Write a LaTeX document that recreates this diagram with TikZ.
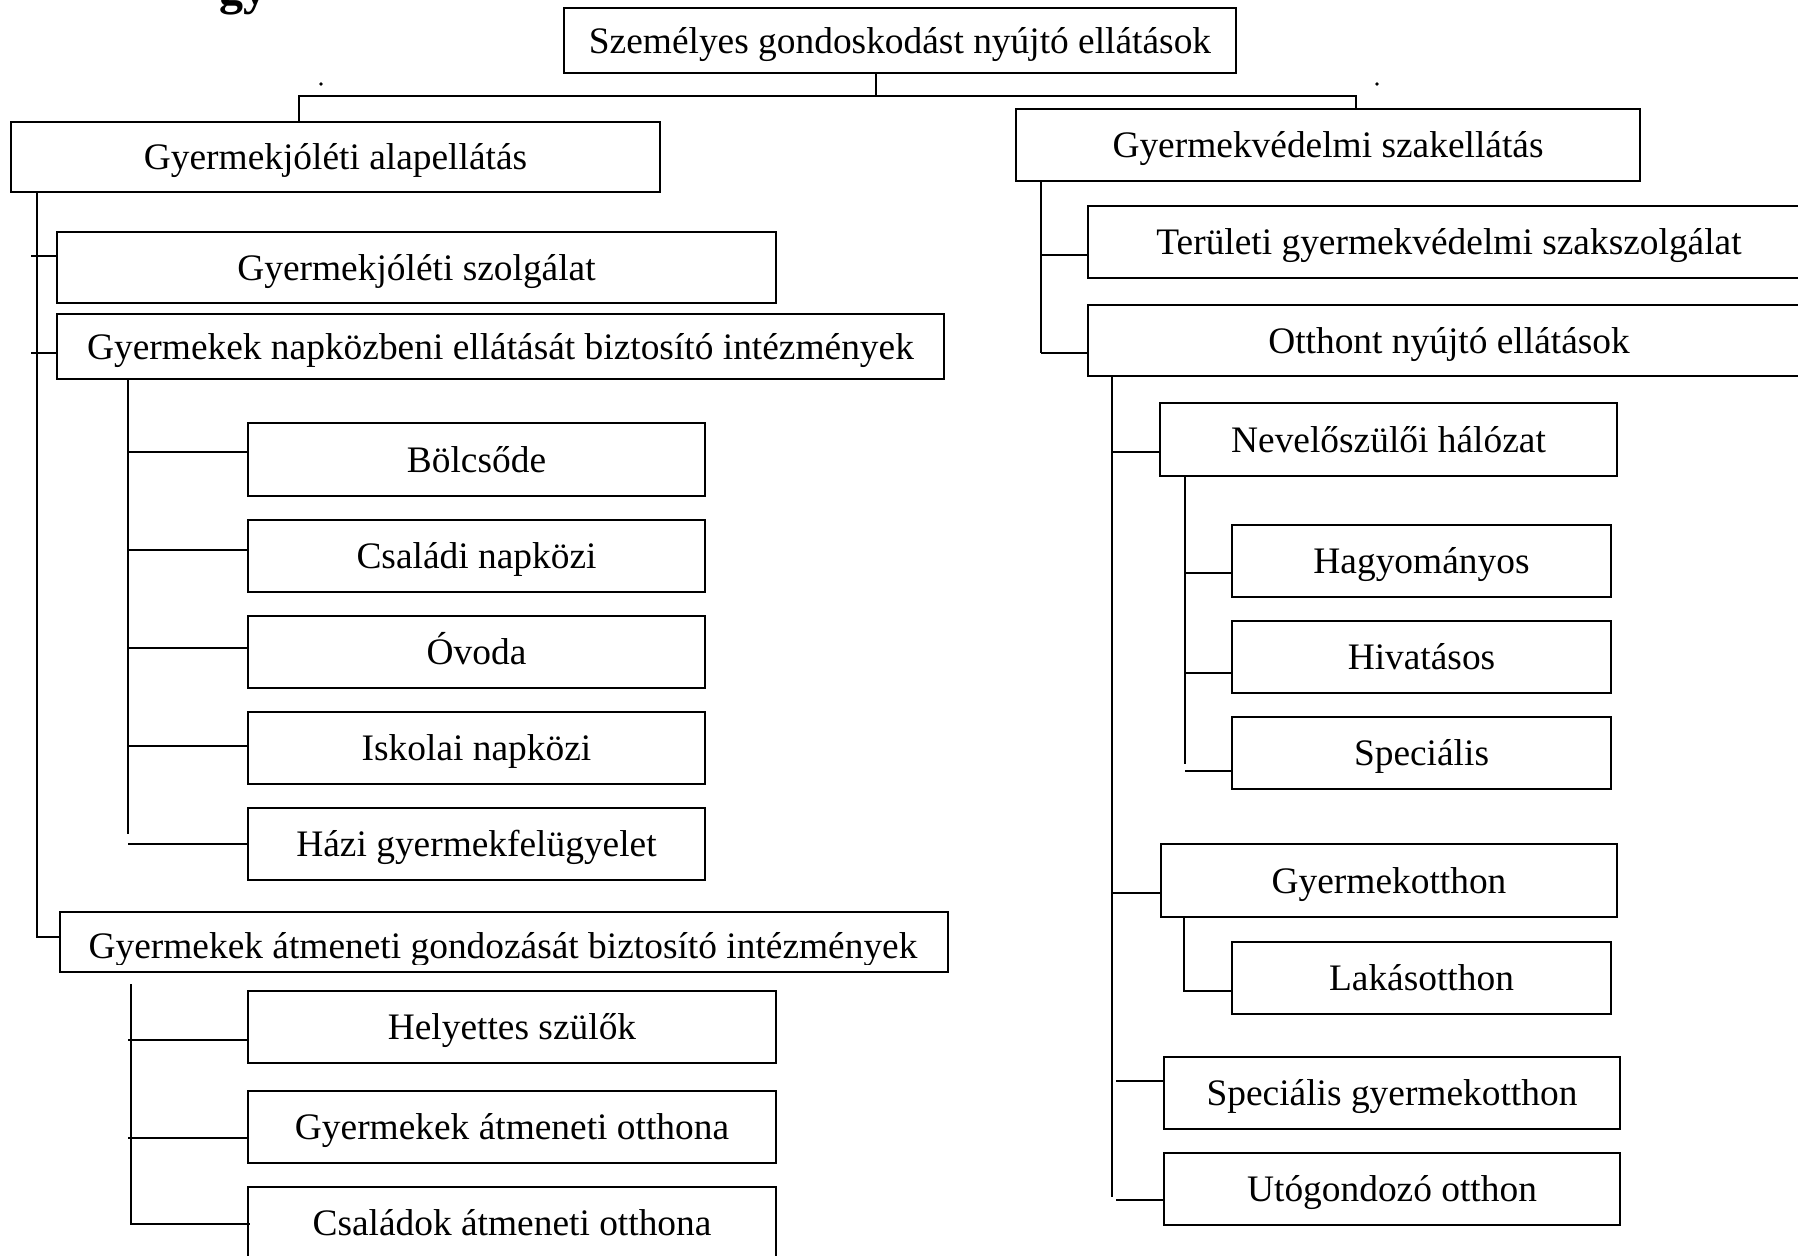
\documentclass[tikz,border=0pt]{standalone}
\usepackage{fontspec}
\setmainfont{Liberation Serif}
\newcommand\mybox[6]{\node[box, minimum width={(#4-(#2))*0.5pt}, minimum height={(#5-(#3))*0.5pt}] (#1) at ({(#2+#4)/2},{(#3+#5)/2}) {#6};}
\begin{document}
\begin{tikzpicture}[x=0.5pt,y=-0.5pt,
  box/.style={draw, line width=1pt, rectangle, inner sep=0pt, text height=12.5pt, text depth=0pt, font=\fontsize{18.7}{21}\selectfont},
  conn/.style={line width=0.9pt}]
\useasboundingbox (0,0) rectangle (1798,1255);
\clip (0,0) rectangle (1798,1255);
\fill[white] (0,0) rectangle (1798,1255);
% cut-off heading fragment
\node[font=\bfseries\fontsize{24}{26}\selectfont, anchor=base west, inner sep=0pt] (frag) at (219,4) {gy};
% boxes
\mybox{top}{564}{8}{1236}{73}{Személyes gondoskodást nyújtó ellátások}
\mybox{alap}{11}{122}{660}{192}{Gyermekjóléti alapellátás}
\mybox{szak}{1016}{109}{1640}{181}{Gyermekvédelmi szakellátás}
\mybox{szolg}{57}{232}{776}{303}{Gyermekjóléti szolgálat}
\mybox{napk}{57}{314}{944}{379}{Gyermekek napközbeni ellátását biztosító intézmények}
\mybox{bolcs}{248}{423}{705}{496}{Bölcsőde}
\mybox{csal}{248}{520}{705}{592}{Családi napközi}
\mybox{ovoda}{248}{616}{705}{688}{Óvoda}
\mybox{isk}{248}{712}{705}{784}{Iskolai napközi}
\mybox{hazi}{248}{808}{705}{880}{Házi gyermekfelügyelet}
\mybox{atm}{60}{912}{948}{972}{}
\begin{scope}
\clip (60,912) rectangle (948,964);
\node[font=\fontsize{18.7}{21}\selectfont, anchor=base, inner sep=0pt] (atmtext) at (503,958) {Gyermekek átmeneti gondozását biztosító intézmények};
\end{scope}
\mybox{hely}{248}{991}{776}{1063}{Helyettes szülők}
\mybox{gyao}{248}{1091}{776}{1163}{Gyermekek átmeneti otthona}
\mybox{csao}{248}{1187}{776}{1259}{Családok átmeneti otthona}
\mybox{ter}{1088}{206}{1810}{278}{Területi gyermekvédelmi szakszolgálat}
\mybox{otth}{1088}{305}{1810}{376}{Otthont nyújtó ellátások}
\mybox{nev}{1160}{403}{1617}{476}{Nevelőszülői hálózat}
\mybox{hagy}{1232}{525}{1611}{597}{Hagyományos}
\mybox{hiv}{1232}{621}{1611}{693}{Hivatásos}
\mybox{spec}{1232}{717}{1611}{789}{Speciális}
\mybox{gyo}{1161}{844}{1617}{917}{Gyermekotthon}
\mybox{lak}{1232}{942}{1611}{1014}{Lakásotthon}
\mybox{sgyo}{1164}{1057}{1620}{1129}{Speciális gyermekotthon}
\mybox{uto}{1164}{1153}{1620}{1225}{Utógondozó otthon}
% stray dots
\fill (321,84) circle[radius=1.8];
\fill (1377,84) circle[radius=1.8];
% coordinates
\coordinate (hub) at (876,96);
\coordinate (Ls) at (31,0);
\coordinate (Ns) at (128,0);
\coordinate (As) at (131,0);
\coordinate (Rs) at (1041,0);
\coordinate (Os) at (1112,0);
\coordinate (Os2) at (1116,0);
\coordinate (Vs) at (1185,0);
% top connectors
\draw[conn] (top.south -| hub) -- (hub);
\draw[conn] (alap.north -| 299,0) |- (hub) -| (szak.north -| 1356,0);
% left spine
\draw[conn] (alap.south -| 37,0) |- (atm.west |- 0,937);
\draw[conn] (Ls |- 0,256) -- (szolg.west |- 0,256);
\draw[conn] (Ls |- 0,353) -- (napk.west |- 0,353);
% napkozbeni children
\draw[conn] (napk.south -| Ns) -- (Ns |- 0,834);
\draw[conn] (Ns |- 0,452) -- (bolcs.west |- 0,452);
\draw[conn] (Ns |- 0,550) -- (csal.west |- 0,550);
\draw[conn] (Ns |- 0,648) -- (ovoda.west |- 0,648);
\draw[conn] (Ns |- 0,746) -- (isk.west |- 0,746);
\draw[conn] (Ns |- 0,844) -- (hazi.west |- 0,844);
% atmeneti children
\draw[conn] (As |- 0,984) -- (As |- 0,1225);
\draw[conn] (Ns |- 0,1040) -- (hely.west |- 0,1040);
\draw[conn] (Ns |- 0,1138) -- (gyao.west |- 0,1138);
\draw[conn] (As |- 0,1224) -- ([xshift=1.5pt]csao.west |- 0,1224);
% right spine
\draw[conn] (szak.south -| Rs) -- (Rs |- 0,353);
\draw[conn] (Rs |- 0,255) -- (ter.west |- 0,255);
\draw[conn] (Rs |- 0,353) -- (otth.west |- 0,353);
% otthont children
\draw[conn] (otth.south -| Os) -- (Os |- 0,1197);
\draw[conn] (Os |- 0,452) -- (nev.west |- 0,452);
\draw[conn] (Os |- 0,893) -- (gyo.west |- 0,893);
\draw[conn] (Os2 |- 0,1081) -- (sgyo.west |- 0,1081);
\draw[conn] (Os2 |- 0,1200) -- (uto.west |- 0,1200);
% nevelo children
\draw[conn] (nev.south -| Vs) -- (Vs |- 0,764);
\draw[conn] (Vs |- 0,573) -- (hagy.west |- 0,573);
\draw[conn] (Vs |- 0,673) -- (hiv.west |- 0,673);
\draw[conn] (Vs |- 0,771) -- (spec.west |- 0,771);
% gyermekotthon child
\draw[conn] (gyo.south -| 1184,0) |- (lak.west |- 0,991);
\end{tikzpicture}
\end{document}
